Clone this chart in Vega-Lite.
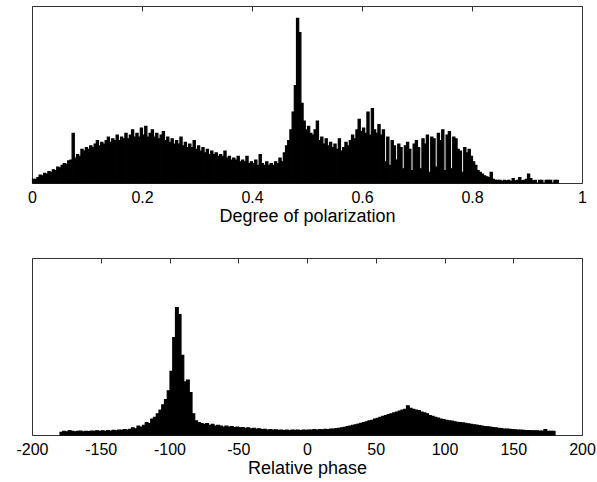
{
  "$schema": "https://vega.github.io/schema/vega-lite/v6.json",
  "background": "white",
  "padding": {"left": 15, "top": 5, "right": 0, "bottom": 0},
  "bounds": "flush",
  "spacing": 75,
  "config": {
    "font": "Liberation Sans",
    "view": {"stroke": "#333", "strokeWidth": 1},
    "axis": {"labelFont": "Liberation Sans", "titleFont": "Liberation Sans", "labelFontSize": 16, "titleFontSize": 18, "titleFontWeight": "normal", "labelColor": "#000", "titleColor": "#000", "tickColor": "#333", "grid": false, "domain": false, "labelFlush": false, "labelOverlap": false}
  },
  "datasets": {
    "dop": [
      {"p":0.000,"n":0.02},{"p":0.004,"n":0.02},{"p":0.008,"n":0.03},{"p":0.012,"n":0.045},{"p":0.016,"n":0.04},
      {"p":0.020,"n":0.055},{"p":0.024,"n":0.05},{"p":0.028,"n":0.065},{"p":0.032,"n":0.06},{"p":0.036,"n":0.075},
      {"p":0.040,"n":0.07},{"p":0.044,"n":0.09},{"p":0.048,"n":0.085},{"p":0.052,"n":0.1},{"p":0.056,"n":0.11},
      {"p":0.060,"n":0.105},{"p":0.064,"n":0.125},{"p":0.068,"n":0.13},{"p":0.072,"n":0.28},{"p":0.076,"n":0.14},
      {"p":0.080,"n":0.16},{"p":0.084,"n":0.15},{"p":0.088,"n":0.19},{"p":0.092,"n":0.18},{"p":0.096,"n":0.2},
      {"p":0.100,"n":0.19},{"p":0.104,"n":0.21},{"p":0.108,"n":0.2},{"p":0.112,"n":0.22},{"p":0.116,"n":0.24},
      {"p":0.120,"n":0.21},{"p":0.124,"n":0.23},{"p":0.128,"n":0.22},{"p":0.132,"n":0.24},{"p":0.136,"n":0.26},
      {"p":0.140,"n":0.23},{"p":0.144,"n":0.25},{"p":0.148,"n":0.24},{"p":0.152,"n":0.27},{"p":0.156,"n":0.24},
      {"p":0.160,"n":0.26},{"p":0.164,"n":0.25},{"p":0.168,"n":0.28},{"p":0.172,"n":0.25},{"p":0.176,"n":0.27},
      {"p":0.180,"n":0.3},{"p":0.184,"n":0.26},{"p":0.188,"n":0.28},{"p":0.192,"n":0.26},{"p":0.196,"n":0.31},
      {"p":0.200,"n":0.27},{"p":0.204,"n":0.32},{"p":0.208,"n":0.26},{"p":0.212,"n":0.28},{"p":0.216,"n":0.3},
      {"p":0.220,"n":0.26},{"p":0.224,"n":0.28},{"p":0.228,"n":0.25},{"p":0.232,"n":0.27},{"p":0.236,"n":0.29},
      {"p":0.240,"n":0.24},{"p":0.244,"n":0.26},{"p":0.248,"n":0.23},{"p":0.252,"n":0.25},{"p":0.256,"n":0.22},
      {"p":0.260,"n":0.24},{"p":0.264,"n":0.22},{"p":0.268,"n":0.26},{"p":0.272,"n":0.21},{"p":0.276,"n":0.23},
      {"p":0.280,"n":0.2},{"p":0.284,"n":0.22},{"p":0.288,"n":0.2},{"p":0.292,"n":0.24},{"p":0.296,"n":0.19},
      {"p":0.300,"n":0.21},{"p":0.304,"n":0.18},{"p":0.308,"n":0.2},{"p":0.312,"n":0.17},{"p":0.316,"n":0.19},
      {"p":0.320,"n":0.16},{"p":0.324,"n":0.18},{"p":0.328,"n":0.16},{"p":0.332,"n":0.17},{"p":0.336,"n":0.15},
      {"p":0.340,"n":0.16},{"p":0.344,"n":0.15},{"p":0.348,"n":0.18},{"p":0.352,"n":0.14},{"p":0.356,"n":0.15},
      {"p":0.360,"n":0.13},{"p":0.364,"n":0.14},{"p":0.368,"n":0.13},{"p":0.372,"n":0.15},{"p":0.376,"n":0.12},
      {"p":0.380,"n":0.13},{"p":0.384,"n":0.12},{"p":0.388,"n":0.15},{"p":0.392,"n":0.11},{"p":0.396,"n":0.12},
      {"p":0.400,"n":0.11},{"p":0.404,"n":0.13},{"p":0.408,"n":0.1},{"p":0.412,"n":0.16},{"p":0.416,"n":0.11},
      {"p":0.420,"n":0.1},{"p":0.424,"n":0.12},{"p":0.428,"n":0.1},{"p":0.432,"n":0.11},{"p":0.436,"n":0.1},
      {"p":0.440,"n":0.12},{"p":0.444,"n":0.11},{"p":0.448,"n":0.14},{"p":0.452,"n":0.12},{"p":0.456,"n":0.17},
      {"p":0.460,"n":0.21},{"p":0.464,"n":0.24},{"p":0.468,"n":0.3},{"p":0.472,"n":0.4},{"p":0.476,"n":0.55},
      {"p":0.480,"n":0.93},{"p":0.484,"n":0.85},{"p":0.488,"n":0.45},{"p":0.492,"n":0.35},{"p":0.496,"n":0.3},
      {"p":0.500,"n":0.32},{"p":0.504,"n":0.28},{"p":0.508,"n":0.27},{"p":0.512,"n":0.3},{"p":0.516,"n":0.35},
      {"p":0.520,"n":0.24},{"p":0.524,"n":0.26},{"p":0.528,"n":0.22},{"p":0.532,"n":0.25},{"p":0.536,"n":0.21},
      {"p":0.540,"n":0.23},{"p":0.544,"n":0.2},{"p":0.548,"n":0.22},{"p":0.552,"n":0.19},{"p":0.556,"n":0.25},
      {"p":0.560,"n":0.18},{"p":0.564,"n":0.2},{"p":0.568,"n":0.23},{"p":0.572,"n":0.21},{"p":0.576,"n":0.24},
      {"p":0.580,"n":0.27},{"p":0.584,"n":0.25},{"p":0.588,"n":0.3},{"p":0.592,"n":0.36},{"p":0.596,"n":0.29},
      {"p":0.600,"n":0.31},{"p":0.604,"n":0.28},{"p":0.608,"n":0.4},{"p":0.612,"n":0.27},{"p":0.616,"n":0.42},
      {"p":0.620,"n":0.3},{"p":0.624,"n":0.28},{"p":0.628,"n":0.33},{"p":0.632,"n":0.27},{"p":0.636,"n":0.3},
      {"p":0.640,"n":0.12},{"p":0.644,"n":0.26},{"p":0.648,"n":0.1},{"p":0.652,"n":0.24},{"p":0.656,"n":0.21},
      {"p":0.660,"n":0.13},{"p":0.664,"n":0.22},{"p":0.668,"n":0.2},{"p":0.672,"n":0.08},{"p":0.676,"n":0.21},
      {"p":0.680,"n":0.23},{"p":0.684,"n":0.19},{"p":0.688,"n":0.07},{"p":0.692,"n":0.22},{"p":0.696,"n":0.24},
      {"p":0.700,"n":0.2},{"p":0.704,"n":0.08},{"p":0.708,"n":0.25},{"p":0.712,"n":0.22},{"p":0.716,"n":0.27},
      {"p":0.720,"n":0.06},{"p":0.724,"n":0.26},{"p":0.728,"n":0.25},{"p":0.732,"n":0.09},{"p":0.736,"n":0.28},
      {"p":0.740,"n":0.24},{"p":0.744,"n":0.3},{"p":0.748,"n":0.07},{"p":0.752,"n":0.27},{"p":0.756,"n":0.29},
      {"p":0.760,"n":0.08},{"p":0.764,"n":0.26},{"p":0.768,"n":0.25},{"p":0.772,"n":0.19},{"p":0.776,"n":0.18},
      {"p":0.780,"n":0.06},{"p":0.784,"n":0.2},{"p":0.788,"n":0.17},{"p":0.792,"n":0.19},{"p":0.796,"n":0.15},
      {"p":0.800,"n":0.12},{"p":0.804,"n":0.1},{"p":0.808,"n":0.07},{"p":0.812,"n":0.06},{"p":0.816,"n":0.05},
      {"p":0.820,"n":0.04},{"p":0.824,"n":0.035},{"p":0.828,"n":0.03},{"p":0.832,"n":0.06},{"p":0.836,"n":0.02},
      {"p":0.840,"n":0.015},{"p":0.844,"n":0.015},{"p":0.848,"n":0.015},{"p":0.852,"n":0.01},{"p":0.856,"n":0.015},
      {"p":0.860,"n":0.012},{"p":0.864,"n":0.015},{"p":0.868,"n":0.01},{"p":0.872,"n":0.025},{"p":0.876,"n":0.012},
      {"p":0.880,"n":0.015},{"p":0.884,"n":0.03},{"p":0.888,"n":0.012},{"p":0.892,"n":0.015},{"p":0.896,"n":0.02},
      {"p":0.900,"n":0.05},{"p":0.904,"n":0.025},{"p":0.908,"n":0.012},{"p":0.912,"n":0.015},{"p":0.916,"n":0.0},
      {"p":0.920,"n":0.015},{"p":0.924,"n":0.015},{"p":0.928,"n":0.0},{"p":0.932,"n":0.015},{"p":0.936,"n":0.015},
      {"p":0.940,"n":0.015},{"p":0.944,"n":0.0},{"p":0.948,"n":0.015},{"p":0.952,"n":0.015}
    ],
    "phase": [
      {"p":-180,"n":0.015},{"p":-178,"n":0.02},{"p":-176,"n":0.018},{"p":-174,"n":0.025},{"p":-172,"n":0.02},
      {"p":-170,"n":0.018},{"p":-168,"n":0.02},{"p":-166,"n":0.022},{"p":-164,"n":0.018},{"p":-162,"n":0.02},
      {"p":-160,"n":0.019},{"p":-158,"n":0.022},{"p":-156,"n":0.02},{"p":-154,"n":0.024},{"p":-152,"n":0.02},
      {"p":-150,"n":0.023},{"p":-148,"n":0.021},{"p":-146,"n":0.025},{"p":-144,"n":0.022},{"p":-142,"n":0.026},
      {"p":-140,"n":0.024},{"p":-138,"n":0.028},{"p":-136,"n":0.026},{"p":-134,"n":0.03},{"p":-132,"n":0.028},
      {"p":-130,"n":0.032},{"p":-128,"n":0.04},{"p":-126,"n":0.035},{"p":-124,"n":0.05},{"p":-122,"n":0.045},
      {"p":-120,"n":0.055},{"p":-118,"n":0.07},{"p":-116,"n":0.065},{"p":-114,"n":0.09},{"p":-112,"n":0.1},
      {"p":-110,"n":0.12},{"p":-108,"n":0.14},{"p":-106,"n":0.17},{"p":-104,"n":0.2},{"p":-102,"n":0.25},
      {"p":-100,"n":0.36},{"p":-98,"n":0.55},{"p":-96,"n":0.72},{"p":-94,"n":0.68},{"p":-92,"n":0.45},
      {"p":-90,"n":0.3},{"p":-88,"n":0.31},{"p":-86,"n":0.24},{"p":-84,"n":0.12},{"p":-82,"n":0.08},
      {"p":-80,"n":0.07},{"p":-78,"n":0.065},{"p":-76,"n":0.06},{"p":-74,"n":0.065},{"p":-72,"n":0.055},
      {"p":-70,"n":0.06},{"p":-68,"n":0.05},{"p":-66,"n":0.055},{"p":-64,"n":0.05},{"p":-62,"n":0.045},
      {"p":-60,"n":0.05},{"p":-58,"n":0.045},{"p":-56,"n":0.048},{"p":-54,"n":0.042},{"p":-52,"n":0.045},
      {"p":-50,"n":0.04},{"p":-48,"n":0.042},{"p":-46,"n":0.038},{"p":-44,"n":0.04},{"p":-42,"n":0.035},
      {"p":-40,"n":0.038},{"p":-38,"n":0.033},{"p":-36,"n":0.035},{"p":-34,"n":0.03},{"p":-32,"n":0.032},
      {"p":-30,"n":0.028},{"p":-28,"n":0.03},{"p":-26,"n":0.027},{"p":-24,"n":0.029},{"p":-22,"n":0.026},
      {"p":-20,"n":0.028},{"p":-18,"n":0.025},{"p":-16,"n":0.027},{"p":-14,"n":0.025},{"p":-12,"n":0.028},
      {"p":-10,"n":0.026},{"p":-8,"n":0.027},{"p":-6,"n":0.025},{"p":-4,"n":0.028},{"p":-2,"n":0.026},
      {"p":0,"n":0.028},{"p":2,"n":0.027},{"p":4,"n":0.03},{"p":6,"n":0.028},{"p":8,"n":0.031},
      {"p":10,"n":0.029},{"p":12,"n":0.032},{"p":14,"n":0.031},{"p":16,"n":0.034},{"p":18,"n":0.033},
      {"p":20,"n":0.036},{"p":22,"n":0.038},{"p":24,"n":0.04},{"p":26,"n":0.043},{"p":28,"n":0.047},
      {"p":30,"n":0.05},{"p":32,"n":0.055},{"p":34,"n":0.058},{"p":36,"n":0.062},{"p":38,"n":0.066},
      {"p":40,"n":0.07},{"p":42,"n":0.074},{"p":44,"n":0.08},{"p":46,"n":0.083},{"p":48,"n":0.09},
      {"p":50,"n":0.094},{"p":52,"n":0.1},{"p":54,"n":0.105},{"p":56,"n":0.11},{"p":58,"n":0.115},
      {"p":60,"n":0.12},{"p":62,"n":0.125},{"p":64,"n":0.13},{"p":66,"n":0.135},{"p":68,"n":0.14},
      {"p":70,"n":0.145},{"p":72,"n":0.165},{"p":74,"n":0.15},{"p":76,"n":0.145},{"p":78,"n":0.14},
      {"p":80,"n":0.138},{"p":82,"n":0.13},{"p":84,"n":0.125},{"p":86,"n":0.12},{"p":88,"n":0.11},
      {"p":90,"n":0.105},{"p":92,"n":0.1},{"p":94,"n":0.095},{"p":96,"n":0.09},{"p":98,"n":0.087},
      {"p":100,"n":0.083},{"p":102,"n":0.08},{"p":104,"n":0.078},{"p":106,"n":0.075},{"p":108,"n":0.072},
      {"p":110,"n":0.07},{"p":112,"n":0.068},{"p":114,"n":0.066},{"p":116,"n":0.063},{"p":118,"n":0.06},
      {"p":120,"n":0.058},{"p":122,"n":0.056},{"p":124,"n":0.053},{"p":126,"n":0.05},{"p":128,"n":0.048},
      {"p":130,"n":0.046},{"p":132,"n":0.044},{"p":134,"n":0.042},{"p":136,"n":0.04},{"p":138,"n":0.038},
      {"p":140,"n":0.036},{"p":142,"n":0.034},{"p":144,"n":0.033},{"p":146,"n":0.032},{"p":148,"n":0.03},
      {"p":150,"n":0.029},{"p":152,"n":0.028},{"p":154,"n":0.027},{"p":156,"n":0.026},{"p":158,"n":0.025},
      {"p":160,"n":0.025},{"p":162,"n":0.024},{"p":164,"n":0.024},{"p":166,"n":0.023},{"p":168,"n":0.022},
      {"p":170,"n":0.022},{"p":172,"n":0.03},{"p":174,"n":0.021},{"p":176,"n":0.02},{"p":178,"n":0.02}
    ],
    "edge1": [{"p": 0}],
    "edge2": [{"p": -200}]
  },
  "vconcat": [
    {
      "width": 550,
      "height": 177,
      "layer": [
        {
          "data": {"name": "dop"},
          "mark": {"type": "bar", "fill": "#000", "stroke": "#000", "strokeWidth": 1.2, "binSpacing": 0, "strokeOpacity": 1},
          "encoding": {
            "x": {"field": "p", "type": "quantitative", "bin": {"binned": true, "step": 0.004},
                  "scale": {"domain": [0, 1], "nice": false, "zero": false},
                  "axis": {"orient": "bottom", "values": [0, 0.2, 0.4, 0.6, 0.8, 1], "format": "~g", "title": "Degree of polarization", "tickSize": -5, "labelPadding": 11, "titlePadding": 2}},
            "y": {"field": "n", "type": "quantitative", "scale": {"domain": [0, 1]}, "axis": null}
          }
        },
        {
          "data": {"name": "edge1"},
          "mark": {"type": "point", "opacity": 0},
          "encoding": {
            "x": {"field": "p", "type": "quantitative",
                  "axis": {"orient": "top", "values": [0, 0.2, 0.4, 0.6, 0.8, 1], "labels": false, "tickSize": -5, "title": null}}
          }
        }
      ]
    },
    {
      "width": 550,
      "height": 177,
      "layer": [
        {
          "data": {"name": "phase"},
          "mark": {"type": "bar", "fill": "#000", "stroke": "#000", "strokeWidth": 1.2, "binSpacing": 0, "strokeOpacity": 1},
          "encoding": {
            "x": {"field": "p", "type": "quantitative", "bin": {"binned": true, "step": 2},
                  "scale": {"domain": [-200, 200], "nice": false, "zero": false},
                  "axis": {"orient": "bottom", "values": [-200, -150, -100, -50, 0, 50, 100, 150, 200], "labelExpr": "'' + datum.value", "title": "Relative phase", "tickSize": -5, "labelPadding": 11, "titlePadding": 2}},
            "y": {"field": "n", "type": "quantitative", "scale": {"domain": [0, 1]}, "axis": null}
          }
        },
        {
          "data": {"name": "edge2"},
          "mark": {"type": "point", "opacity": 0},
          "encoding": {
            "x": {"field": "p", "type": "quantitative",
                  "axis": {"orient": "top", "values": [-200, -150, -100, -50, 0, 50, 100, 150, 200], "labels": false, "tickSize": -5, "title": null}}
          }
        }
      ]
    }
  ]
}
